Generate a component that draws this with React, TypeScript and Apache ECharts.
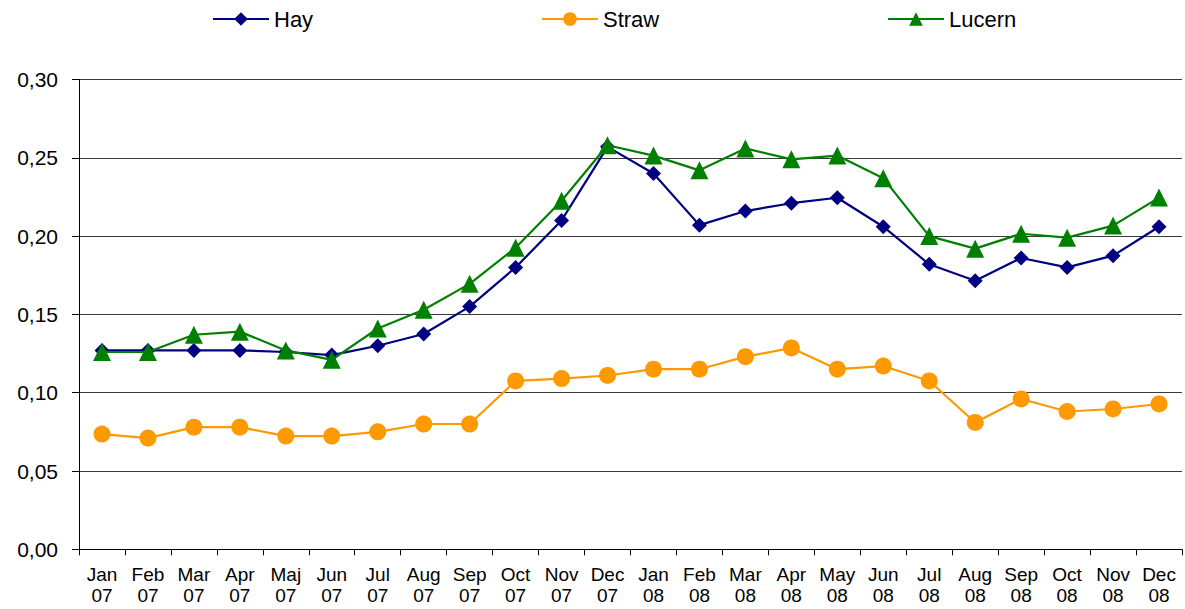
import React, { useEffect, useRef } from "react";
import * as echarts from "echarts";

const categories = [
  "Jan\n07", "Feb\n07", "Mar\n07", "Apr\n07", "Maj\n07", "Jun\n07", "Jul\n07", "Aug\n07", "Sep\n07", "Oct\n07", "Nov\n07", "Dec\n07",
  "Jan\n08", "Feb\n08", "Mar\n08", "Apr\n08", "May\n08", "Jun\n08", "Jul\n08", "Aug\n08", "Sep\n08", "Oct\n08", "Nov\n08", "Dec\n08",
];

const hay = [
  0.127, 0.127, 0.127, 0.127, 0.126, 0.124, 0.130, 0.1375, 0.155, 0.180, 0.210, 0.257,
  0.240, 0.207, 0.216, 0.221, 0.2245, 0.206, 0.182, 0.1715, 0.186, 0.180, 0.1875, 0.206,
];

const straw = [
  0.0736, 0.071, 0.078, 0.078, 0.0723, 0.0723, 0.075, 0.080, 0.080, 0.1075, 0.109, 0.111,
  0.115, 0.115, 0.123, 0.1286, 0.115, 0.117, 0.1075, 0.081, 0.096, 0.088, 0.0896, 0.0928,
];

const lucern = [
  0.126, 0.126, 0.137, 0.139, 0.127, 0.121, 0.141, 0.153, 0.1695, 0.1926, 0.2226, 0.258,
  0.2514, 0.242, 0.256, 0.249, 0.2514, 0.237, 0.200, 0.192, 0.2015, 0.199, 0.2067, 0.2246,
];

const FONT = "Liberation Sans, Arial, sans-serif";

export default function App() {
  const ref = useRef<HTMLDivElement>(null);
  useEffect(() => {
    if (!ref.current) return;
    const chart = echarts.init(ref.current, null, { renderer: "svg" });
    const legendCommon = {
      top: 3,
      itemWidth: 56,
      itemHeight: 17,
      itemGap: 5,
      textStyle: { fontFamily: FONT, fontSize: 22, color: "#000" },
    };
    chart.setOption({
      animation: false,
      backgroundColor: "#fff",
      textStyle: { fontFamily: FONT },
      legend: [
        { ...legendCommon, left: 207, data: ["Hay"] },
        { ...legendCommon, left: 536, data: ["Straw"] },
        { ...legendCommon, left: 882, data: ["Lucern"] },
      ],
      grid: { left: 79, right: 3, top: 79.5, bottom: 59.7 },
      xAxis: {
        type: "category",
        data: categories,
        boundaryGap: true,
        axisLine: { lineStyle: { color: "#000", width: 1 } },
        axisTick: { show: true, length: 6, inside: false, lineStyle: { color: "#000" } },
        axisLabel: {
          interval: 0,
          margin: 15,
          fontFamily: FONT,
          fontSize: 19,
          lineHeight: 21,
          color: "#000",
        },
      },
      yAxis: {
        type: "value",
        min: 0,
        max: 0.3,
        interval: 0.05,
        axisLine: { show: true, lineStyle: { color: "#000", width: 1 } },
        axisTick: { show: true, length: 7, lineStyle: { color: "#000" } },
        axisLabel: {
          margin: 21,
          fontFamily: FONT,
          fontSize: 21,
          color: "#000",
          formatter: (v: number) => v.toFixed(2).replace(".", ","),
        },
        splitLine: { show: true, lineStyle: { color: "#3a3a3a", width: 1 } },
      },
      series: [
        {
          name: "Hay",
          type: "line",
          data: hay,
          symbol: "diamond",
          symbolSize: 15,
          color: "#000080",
          lineStyle: { width: 2.2, color: "#000080" },
          itemStyle: { color: "#000080" },
          z: 3,
        },
        {
          name: "Straw",
          type: "line",
          data: straw,
          symbol: "circle",
          symbolSize: 17,
          color: "#FF9900",
          lineStyle: { width: 2.2, color: "#FF9900" },
          itemStyle: { color: "#FF9900" },
          z: 2,
        },
        {
          name: "Lucern",
          type: "line",
          data: lucern,
          symbol: "triangle",
          symbolSize: 18,
          color: "#008000",
          lineStyle: { width: 2.2, color: "#008000" },
          itemStyle: { color: "#008000" },
          z: 4,
        },
      ],
    });
    return () => chart.dispose();
  }, []);
  return (
    <div
      ref={ref}
      style={{ position: "fixed", left: 0, top: 0, width: 1185, height: 609, background: "#fff" }}
    />
  );
}
